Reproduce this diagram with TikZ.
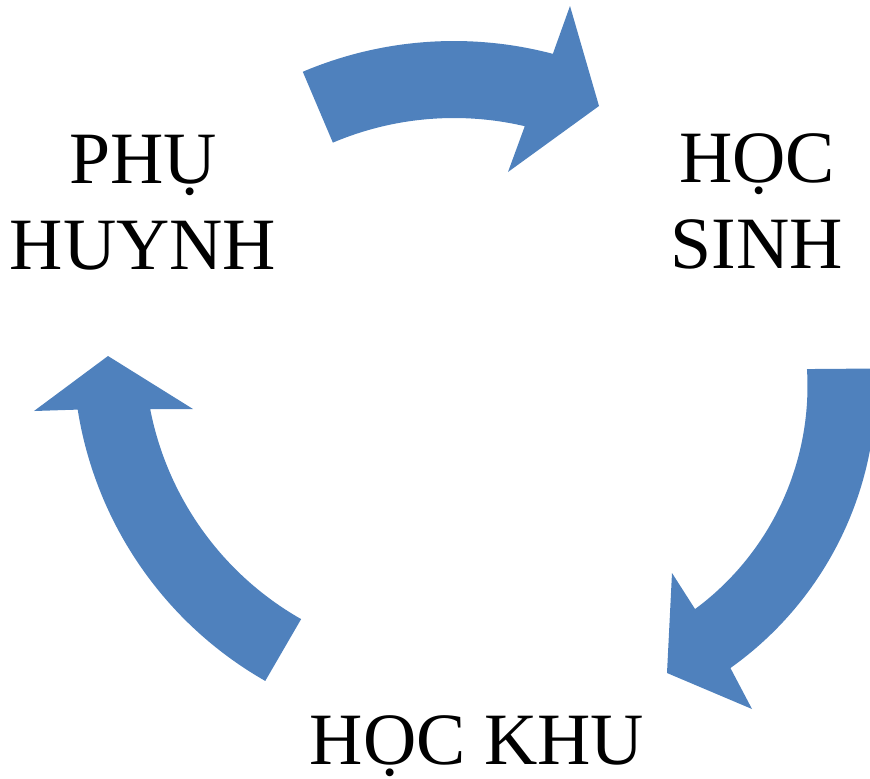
\documentclass[tikz,border=0pt]{standalone}
\usepackage{fontspec}
\setmainfont{Liberation Serif}
\usetikzlibrary{calc}
\definecolor{arrowblue}{RGB}{79,129,189}
\tikzset{
  cyclearrow/.style={fill=arrowblue, draw=none},
  lbl/.style={font=\fontsize{63}{72.6}\selectfont, align=center, inner sep=0pt, text=black}
}
\begin{document}
\begin{tikzpicture}[x=0.03cm, y=-0.03cm]
\useasboundingbox (0,0) rectangle (870,778);
\clip (0,0) rectangle (870,778);
% centres of the three arcs
\coordinate (ct) at (454,428);
\coordinate (cr) at (530,386);
\coordinate (cl) at (454,350);
% head points
\coordinate (thA) at (570,6);
\coordinate (thT) at (599,106);
\coordinate (thB) at (508,172);
\coordinate (rhA) at (672,573);
\coordinate (rhT) at (667,673);
\coordinate (rhB) at (752,709);
\coordinate (lhA) at (193,409);
\coordinate (lhT) at (108,356);
\coordinate (lhB) at (34,411);
% top arrow
\fill[cyclearrow] ($(ct)+(-113:310)$) -- ($(ct)+(-113:387)$)
  arc[start angle=-113, end angle=-75.2, radius=387]
  -- (thA) -- (thT) -- (thB) -- ($(ct)+(-76.8:310)$)
  arc[start angle=-76.8, end angle=-113, radius=310] -- cycle;
% right arrow
\fill[cyclearrow] ($(cr)+(-3.5:277.5)$) -- ($(cr)+(-2.9:346)$)
  arc[start angle=-2.9, end angle=54.6, radius=346]
  -- (rhB) -- (rhT) -- (rhA) -- ($(cr)+(53.5:277.5)$)
  arc[start angle=53.5, end angle=-3.5, radius=277.5] -- cycle;
% left arrow
\fill[cyclearrow] ($(cl)+(119.6:309.5)$)
  arc[start angle=119.6, end angle=169, radius=309.5]
  -- (lhA) -- (lhT) -- (lhB) -- ($(cl)+(171:381)$)
  arc[start angle=171, end angle=119.7, radius=381] -- cycle;
% labels
\node[lbl, anchor=base] (ph) at (143,269) {PHỤ\\HUYNH};
\node[lbl, anchor=base] (hs) at (757,268) {HỌC\\SINH};
\node[lbl, anchor=base] (hk) at (477,764) {HỌC KHU};
\end{tikzpicture}
\end{document}
